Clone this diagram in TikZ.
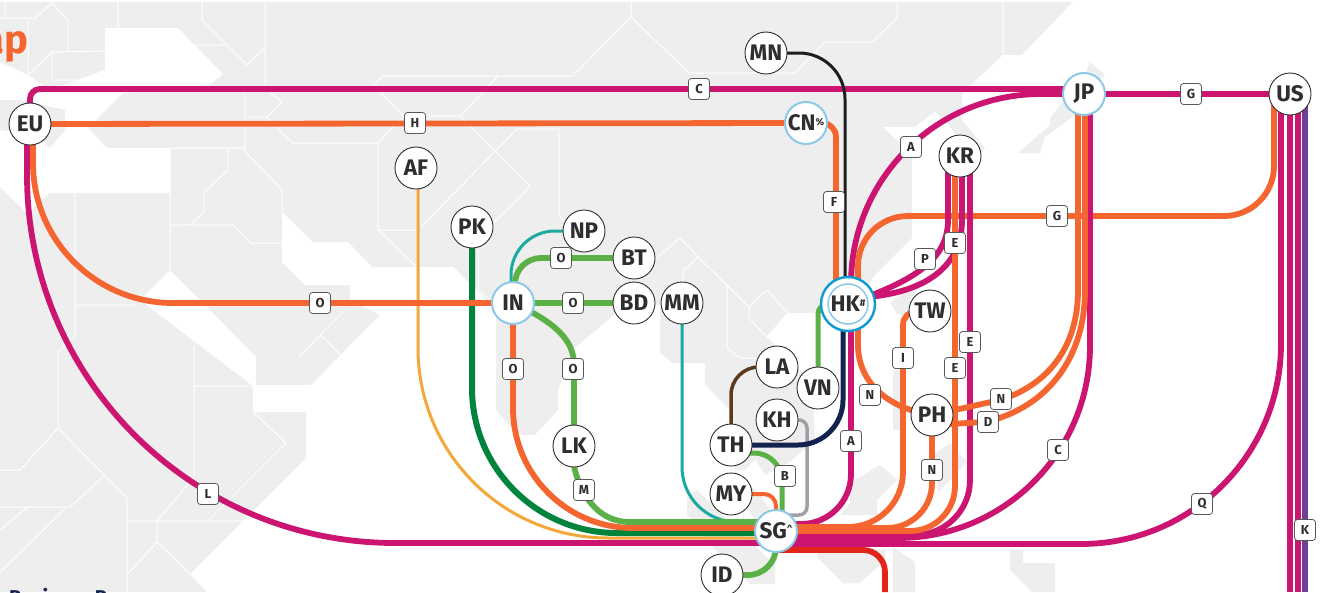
\documentclass[tikz,border=0pt]{standalone}
\usepackage{fontspec}
\setmainfont{Fira Sans}
\definecolor{cLand}{HTML}{EEEEEE}
\definecolor{cMag}{HTML}{CB1571}
\definecolor{cOra}{HTML}{F4652F}
\definecolor{cGrn}{HTML}{5CB146}
\definecolor{cDGr}{HTML}{00843D}
\definecolor{cAmb}{HTML}{F5A83A}
\definecolor{cTea}{HTML}{1AAAA0}
\definecolor{cNav}{HTML}{14224F}
\definecolor{cBro}{HTML}{5B3A1E}
\definecolor{cPur}{HTML}{6F3F98}
\definecolor{cRed}{HTML}{E1251B}
\definecolor{cBlk}{HTML}{1D1D1F}
\definecolor{cGry}{HTML}{A0A0A8}
\definecolor{cIce}{HTML}{8CC8E8}
\definecolor{cSky}{HTML}{0F9BD0}
\definecolor{cTxt}{HTML}{2E2E30}
\pgfdeclarelayer{maplayer}
\pgfdeclarelayer{linelayer}
\pgfsetlayers{maplayer,linelayer,main}
\tikzset{
  stn/.style={circle,draw=cTxt,line width=0.9pt,fill=white,minimum size=42pt,inner sep=0pt,
    text=cTxt,font=\fontsize{22.5}{22.5}\selectfont\bfseries},
  hub/.style={stn,draw=cIce,line width=2pt},
  bighub/.style={stn,draw=cSky,line width=2.4pt,minimum size=54pt},
  innerring/.style={circle,draw=cIce,line width=1.5pt,minimum size=40pt,inner sep=0pt,text=cTxt,font=\fontsize{22.5}{22.5}\selectfont\bfseries},
  tag/.style={rectangle,rounded corners=3pt,draw=cTxt!80,line width=0.8pt,fill=white,minimum size=21pt,
    inner sep=0pt,text=cTxt,font=\fontsize{13}{13}\selectfont\bfseries},
  rt/.style={line width=5.8pt},
  thinrt/.style={line width=3pt},
  mapline/.style={draw=white,line width=1pt},
  sea/.style={fill=white,draw=none},
  land/.style={fill=cLand,draw=none},
}
\newcommand{\tinysup}[1]{\raisebox{5pt}{\fontsize{10}{10}\selectfont #1}}
\begin{document}
\begin{tikzpicture}[x=1pt,y=-1pt]
\useasboundingbox (0,0) rectangle (1323,592);
\clip (0,0) rectangle (1323,592);

% stations
\node[stn] (MN) at (766,53) {MN};
\node[stn] (EU) at (30,124) {EU};
\node[stn] (AF) at (416,168) {AF};
\node[stn] (PK) at (472,227) {PK};
\node[stn] (NP) at (584,231) {NP};
\node[stn] (BT) at (634,258) {BT};
\node[hub] (IN) at (513,303) {IN};
\node[stn] (BD) at (634,303) {BD};
\node[stn] (MM) at (682,303) {MM};
\node[hub] (CN) at (806,123) {CN\tinysup{\%}};
\node[bighub] (HK) at (848,304) {};
\node[innerring] (HKin) at (848,304) {HK\tinysup{\#}};
\node[stn] (KR) at (960,156) {KR};
\node[hub] (JP) at (1084,94) {JP};
\node[stn] (US) at (1290,94) {US};
\node[stn] (TW) at (930,311) {TW};
\node[stn] (LA) at (777,367) {LA};
\node[stn] (VN) at (818,388) {VN};
\node[stn] (KH) at (777,420) {KH};
\node[stn] (TH) at (731,445) {TH};
\node[stn] (MY) at (731,494) {MY};
\node[stn] (LK) at (574,446) {LK};
\node[stn] (PH) at (932,415) {PH};
\node[hub] (SG) at (776,531) {SG\tinysup{\char`\^}};
\node[stn] (ID) at (722,575) {ID};

% letters on the lines
\node[tag] (tC) at (699,89) {C};
\node[tag] (tH) at (415,123) {H};
\node[tag] (tF) at (834,202) {F};
\node[tag] (tA1) at (911,147) {A};
\node[tag] (tG1) at (1057,216) {G};
\node[tag] (tE1) at (955,243) {E};
\node[tag] (tP) at (925,259) {P};
\node[tag] (tO1) at (320,303) {O};
\node[tag] (tO2) at (561,258) {O};
\node[tag] (tO3) at (573,303) {O};
\node[tag] (tO4) at (513,369) {O};
\node[tag] (tO5) at (573,369) {O};
\node[tag] (tI) at (903,358) {I};
\node[tag] (tE2) at (970,342) {E};
\node[tag] (tE3) at (955,368) {E};
\node[tag] (tN1) at (870,395) {N};
\node[tag] (tN2) at (1001,399) {N};
\node[tag] (tD) at (988,422) {D};
\node[tag] (tN3) at (932,470) {N};
\node[tag] (tA2) at (851,441) {A};
\node[tag] (tC2) at (1058,450) {C};
\node[tag] (tB) at (785,476) {B};
\node[tag] (tM) at (584,490) {M};
\node[tag] (tL) at (208,494) {L};
\node[tag] (tQ) at (1202,504) {Q};
\node[tag] (tK) at (1305,530) {K};
\node[tag] (tG2) at (1191,94) {G};

% cropped headings
\node[anchor=base east,text=cOra,font=\fontsize{40}{40}\selectfont\bfseries,inner sep=0pt] (title) at (29,53) {Map};
\node[anchor=base west,text=cNav,font=\fontsize{20}{20}\selectfont\bfseries,inner sep=0pt] (legend) at (9,604) {Business P};

\begin{pgfonlayer}{maplayer}
\fill[cLand] (0,2) rectangle (1323,592);
% oceans
\fill[sea] (1323,0) -- (1323,2) -- (1073,2) -- (1022,55) -- (1003,55) -- (973,83) -- (933,113) -- (915,127) -- (883,127) -- (912,155) -- (912,238) -- (875,275) -- (850,313) -- (788,313) -- (767,337) -- (795,365) -- (813,385) -- (815,440) -- (790,462) -- (765,475) -- (755,460) -- (745,470) -- (735,470) -- (730,440) -- (730,410) -- (705,385) -- (705,363) -- (672,363) -- (660,353) -- (660,305) -- (620,310) -- (575,348) -- (558,390) -- (558,410) -- (535,435) -- (522,435) -- (507,423) -- (496,410) -- (496,310) -- (453,267) -- (372,267) -- (348,242) -- (313,242) -- (282,212) -- (282,262) -- (305,285) -- (350,285) -- (350,300) -- (380,315) -- (311,385) -- (256,385) -- (256,357) -- (200,300) -- (170,270) -- (140,300) -- (253,386) -- (253,412) -- (306,412) -- (306,458) -- (190,574) -- (207,592) -- (1323,592) -- cycle;
\fill[sea] (105,28) -- (178,28) -- (223,74) -- (210,85) -- (123,93) -- (88,128) -- (107,148) -- (170,148) -- (170,193) -- (50,193) -- (27,213) -- (0,187) -- (0,62) -- (28,75) -- (50,90) -- (105,70) -- cycle;
% islands and peninsulas
\fill[land] (0,100) -- (20,100) -- (65,110) -- (65,130) -- (50,148) -- (35,135) -- (0,130) -- cycle;
\fill[land] (687,498) -- (697,490) -- (775,565) -- (775,584) -- (750,584) -- (712,546) -- (687,515) -- cycle;
\fill[land] (735,470) -- (760,495) -- (780,525) -- (760,525) -- (735,495) -- cycle;
\fill[land] (817,550) -- (885,550) -- (885,560) -- (860,583) -- (843,583) -- (817,557) -- cycle;
\fill[land] (893,547) -- (915,562) -- (915,592) -- (893,592) -- cycle;
\fill[land] (1010,550) -- (1023,550) -- (1023,563) -- (1055,563) -- (1055,592) -- (1032,592) -- (1010,570) -- cycle;
\fill[land] (893,306) -- (905,294) -- (915,306) -- (905,320) -- cycle;
\fill[land] (893,370) -- (905,370) -- (905,430) -- (893,430) -- cycle;
\fill[land] (938,493) -- (967,462) -- (950,443) -- (935,453) -- cycle;
\fill[land] (850,503) -- (850,483) -- (880,465) -- (897,480) -- (877,500) -- (877,515) -- (840,515) -- cycle;
\fill[land] (890,303) -- (920,278) -- (923,282) -- (898,315) -- cycle;
\fill[land] (933,110) -- (957,83) -- (973,83) -- (962,95) -- (962,120) -- (985,148) -- (970,165) -- (960,140) -- (945,120) -- cycle;
\fill[land] (1090,62) -- (1105,75) -- (1075,105) -- (1075,115) -- (1045,137) -- (1040,153) -- (1018,153) -- (1050,125) -- (1050,118) -- (1085,75) -- cycle;
% borders
\draw[mapline] (5,2) -- (5,18) (0,18) -- (35,18) -- (52,3) -- (68,20) -- (68,50) (52,52) -- (105,51) (52,52) -- (28,75) -- (28,20) (52,52) -- (52,80) -- (105,80);
\draw[mapline] (118,2) -- (118,28) (202,2) -- (202,20) -- (247,65) -- (265,48) (265,2) -- (265,85) (195,45) -- (228,45);
\draw[mapline] (373,85) -- (383,76) -- (573,76) -- (631,17) -- (631,2) (631,17) -- (689,73) -- (795,73) -- (825,42) -- (872,42) -- (897,18) -- (897,2) (1003,2) -- (1003,55);
\draw[mapline] (245,93) -- (245,148) (245,117) -- (267,117) -- (282,102) -- (270,93) (267,117) -- (292,143) -- (378,143) -- (378,230) -- (418,268) (378,230) -- (415,230) (378,143) -- (400,120) (381,93) -- (405,118);
\draw[mapline] (421,227) -- (517,129) -- (559,129) -- (559,200) -- (559,215) -- (570,228) (460,116) -- (530,186) -- (517,200) -- (493,223) (430,116) -- (460,116) -- (498,76);
\draw[mapline] (170,148) -- (245,148) (228,148) -- (228,170) -- (204,193) -- (204,212) -- (190,225) -- (170,225) (170,148) -- (170,270) (170,225) -- (233,225) -- (251,243) -- (282,243) (242,148) -- (282,190) -- (282,212);
\draw[mapline] (75,193) -- (75,335) -- (58,352) -- (58,428) -- (20,470) -- (0,470) (58,428) -- (127,498) -- (127,592) (127,521) -- (245,521) (157,521) -- (157,542) -- (127,575) (157,542) -- (190,574) (208,521) -- (286,443) -- (253,412) (194,328) -- (194,477) -- (157,521) (194,386) -- (253,386) (70,507) -- (0,507) (105,475) -- (70,507) (28,507) -- (0,530) (65,509) -- (0,572) (76,305) -- (135,305);
\draw[mapline] (299,357) -- (320,335) -- (341,355) (320,335) -- (345,310) (440,207) -- (457,190) (478,250) -- (478,290) -- (490,300) (622,273) -- (622,295);
\draw[mapline] (657,258) -- (680,238) -- (698,257) -- (749,307) -- (767,290) -- (788,313) -- (767,337) -- (749,318) -- (749,307) (698,257) -- (683,271) -- (683,300) (727,286) -- (727,348) -- (740,358) -- (758,358);
\end{pgfonlayer}

\begin{pgfonlayer}{linelayer}
% left bundle into SG
\draw[thinrt,cTea,rounded corners=55pt] (MM.center) |- ([yshift=9pt]SG.center);
\draw[thinrt,cAmb,rounded corners=190pt] ([xshift=2pt]AF.center) |- ([yshift=-7pt]SG.center);
\draw[rt,cMag,rounded corners=368pt] ([xshift=-3pt]EU.center) |- ([yshift=-12pt]SG.center);
\draw[rt,cDGr,line width=6pt,rounded corners=145pt] (PK.center) |- ([yshift=-2pt]SG.center);
\draw[rt,cOra,rounded corners=120pt] (IN.center) |- ([yshift=3pt]SG.center);
\draw[rt,cGrn] (LK.center) -- (574,466) .. controls (579,490) and (595,522) .. (630,522) -- ([yshift=9pt]SG.center);
% top lines
\draw[rt,cOra,rounded corners=140pt] ([xshift=3pt]EU.center) |- (IN.center);
\draw[rt,cMag,rounded corners=10pt] (EU.center) |- ([yshift=5pt]JP.center);
\draw[rt,cOra] (EU.center) -- (CN.center);
\draw[rt,cOra,rounded corners=14pt] (CN.center) -| ([xshift=-12pt]HK.center);
\draw[thinrt,cBlk,rounded corners=46pt] (MN.center) -| ([xshift=-3pt]HK.center);
\draw[rt,cMag,rounded corners=190pt] ([xshift=3pt]HK.center) |- (JP.center);
\draw[rt,cMag] (JP.center) -- (US.center);
\draw[rt,cOra,rounded corners=50pt] ([xshift=10pt]HK.center) |- (1274,216) -- ([xshift=-16pt]US.center);
% India
\draw[thinrt,cTea,rounded corners=44pt] ([xshift=-2pt]IN.center) |- (NP.center);
\draw[rt,cGrn,rounded corners=26pt] ([xshift=2pt]IN.center) |- (BT.center);
\draw[rt,cGrn] (IN.center) -- (BD.center);
\draw[rt,cGrn] (IN.center) .. controls (555,322) and (574,340) .. (574,365) -- (LK.center);
% SE Asia
\draw[thinrt,cBro,line width=3.5pt,rounded corners=28pt] (TH.center) |- (LA.center);
\draw[thinrt,cGry,line width=3.5pt,rounded corners=8pt] (KH.center) -| (807,515) -- ([yshift=16pt]SG.center);
\draw[rt,cNav,line width=5pt,rounded corners=45pt] (TH.center) -| ([xshift=-5pt]HK.center);
\draw[rt,cGrn,line width=5pt,rounded corners=10pt] (VN.center) |- (HK.center);
\draw[rt,cGrn,line width=5pt,rounded corners=28pt] ([yshift=-8pt]TH.center) -| ([xshift=6pt]SG.center);
\draw[rt,cOra,line width=4pt,rounded corners=12pt] (MY.center) -| (SG.center);
\draw[rt,cGrn,rounded corners=28pt] (ID.center) -| (SG.center);
\draw[rt,cRed,rounded corners=22pt] ([yshift=-19pt]SG.center) -| (885,592);
\draw[rt,cMag,rounded corners=50pt] ([xshift=3pt]HK.center) |- ([yshift=7pt]SG.center);
% Korea
\draw[rt,cMag] ([xshift=-12pt]KR.center) -- (948,220) .. controls (948,262) and (910,282) .. (HK.center);
\draw[rt,cMag] ([xshift=2pt]KR.center) -- (962,220) .. controls (962,270) and (920,297) .. ([yshift=6pt]HK.center);
% right bundle into SG
\draw[rt,cMag,rounded corners=200pt] ([xshift=-9pt]US.center) |- ([yshift=-13pt]SG.center);
\draw[rt,cMag,rounded corners=192pt] ([xshift=6pt]JP.center) |- ([yshift=-7pt]SG.center);
\draw[rt,cMag,rounded corners=55pt] ([xshift=10pt]KR.center) |- ([yshift=-4pt]SG.center);
\draw[rt,cOra,rounded corners=45pt] ([xshift=-5pt]KR.center) |- (SG.center);
\draw[rt,cOra,rounded corners=45pt] (PH.center) |- ([yshift=3pt]SG.center);
\coordinate (Ibend) at (903,345);
\draw[rt,cOra,rounded corners=14pt] (TW.center) -| (Ibend);
\draw[rt,cOra,rounded corners=55pt] (Ibend) |- ([yshift=4pt]SG.center);
% Philippines
\draw[rt,cOra] ([xshift=10pt]HK.center) -- (858,345) .. controls (858,380) and (885,408) .. (PH.center);
\draw[rt,cOra] ([xshift=-6pt]JP.center) -- (1078,290) .. controls (1078,350) and (1045,386) .. (1000,400) -- (PH.center);
\draw[rt,cOra] ([xshift=1pt]JP.center) -- (1085,290) .. controls (1085,365) and (1040,410) .. (985,422) -- ([yshift=-10pt]PH.center);
% USA
\draw[rt,cMag] (US.center) -- (1290,592);
\draw[rt,cMag] ([xshift=8pt]US.center) -- (1298,592);
\draw[rt,cPur] ([xshift=15pt]US.center) -- (1305,592);
\end{pgfonlayer}
\end{tikzpicture}
\end{document}
